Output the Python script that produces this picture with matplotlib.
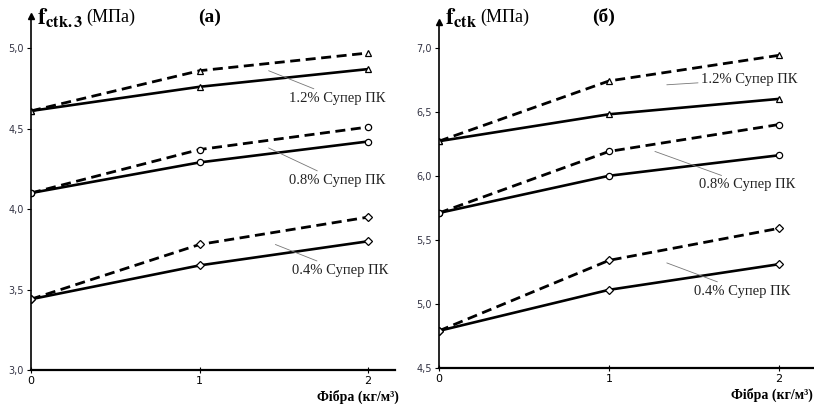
import matplotlib
matplotlib.use("Agg")
import matplotlib.pyplot as plt

plt.rcParams['font.family'] = ['Liberation Serif', 'DejaVu Serif']
plt.rcParams['mathtext.fontset'] = 'stix'

# Дані
fibre = [0, 1, 2]
levels = ['1.2% Супер ПК', '0.8% Супер ПК', '0.4% Супер ПК']
markers = ['^', 'o', 'D']

# (а) f_ctk.3
a_solid = [[4.61, 4.76, 4.87], [4.10, 4.29, 4.42], [3.44, 3.65, 3.80]]
a_dash = [[4.61, 4.86, 4.97], [4.10, 4.37, 4.51], [3.44, 3.78, 3.95]]
a_yticks = [3.0, 3.5, 4.0, 4.5, 5.0]

# (б) f_ctk
b_solid = [[6.27, 6.48, 6.60], [5.71, 6.00, 6.16], [4.79, 5.11, 5.31]]
b_dash = [[6.27, 6.74, 6.94], [5.71, 6.19, 6.40], [4.79, 5.34, 5.59]]
b_yticks = [4.5, 5.0, 5.5, 6.0, 6.5, 7.0]

# положення підписів (лінія-виноска: від, до)
a_notes = [((1.41, 4.86), (1.53, 4.69)), ((1.41, 4.38), (1.53, 4.18)), ((1.45, 3.78), (1.55, 3.62))]
b_notes = [((1.34, 6.71), (1.54, 6.75)), ((1.27, 6.19), (1.53, 5.93)), ((1.34, 5.32), (1.50, 5.10))]

W, H = 814, 404
fig = plt.figure(figsize=(W / 100, H / 100), dpi=100)

ax1 = fig.add_axes([31 / W, 34 / H, 364 / W, 354 / H])
ax2 = fig.add_axes([439 / W, 36 / H, 374 / W, 346 / H])


def draw(ax, solid, dash, yticks, notes, xmax, ymin, ymax):
    for i in range(3):
        ax.plot(fibre, dash[i], color='black', lw=2.0, dashes=(3.6, 2.0),
                marker=markers[i], ms=4.5 if i < 2 else 4, mfc='white', mec='black', mew=0.9)
        ax.plot(fibre, solid[i], color='black', lw=1.9,
                marker=markers[i], ms=4.5 if i < 2 else 4, mfc='white', mec='black', mew=0.9)
        p0, p1 = notes[i]
        ax.annotate(levels[i], xy=p0, xytext=p1, fontsize=10.5, va='center', ha='left',
                    color='#222222',
                    arrowprops=dict(arrowstyle='-', color='#777777', lw=0.6,
                                    shrinkA=0, shrinkB=0))
    ax.set_xlim(0, xmax)
    ax.set_ylim(ymin, ymax)
    ax.set_xticks(fibre)
    ax.set_yticks(yticks)
    ax.set_yticklabels([f'{v:.1f}'.replace('.', ',') for v in yticks],
                       fontfamily='DejaVu Sans', fontsize=7, color='#333344')
    ax.set_xticklabels([str(v) for v in fibre], fontfamily='DejaVu Sans', fontsize=8)
    ax.tick_params(axis='y', length=3, width=0.8, pad=2)
    ax.tick_params(axis='x', length=4, width=0.8, direction='inout', pad=2)
    for s in ['top', 'right']:
        ax.spines[s].set_visible(False)
    ax.spines['left'].set_linewidth(1.2)
    ax.spines['bottom'].set_linewidth(1.6)
    ax.patch.set_alpha(0)
    ax.plot(1, 0, '>', color='black', ms=6, transform=ax.get_yaxis_transform(), clip_on=False)
    ax.plot(0, 1, '^', color='black', ms=5, transform=ax.get_xaxis_transform(), clip_on=False)


draw(ax1, a_solid, a_dash, a_yticks, a_notes, 2.16, 3.0, 5.2)
draw(ax2, b_solid, b_dash, b_yticks, b_notes, 2.2, 4.5, 7.2)

fig.text(37 / W, 1 - 18 / H, r'$\mathbf{f}_{\mathbf{ctk.3}}$', fontsize=17, va='center')
fig.text(86 / W, 1 - 17 / H, '(МПа)', fontsize=13, va='center')
fig.text(210 / W, 1 - 17 / H, '(a)', fontsize=14, fontweight='bold', ha='center', va='center')
fig.text(399 / W, 1 - 397 / H, 'Фібра (кг/м³)', fontsize=10, fontweight='bold', ha='right', va='center')

fig.text(445 / W, 1 - 18 / H, r'$\mathbf{f}_{\mathbf{ctk}}$', fontsize=17, va='center')
fig.text(480 / W, 1 - 17 / H, '(МПа)', fontsize=13, va='center')
fig.text(604 / W, 1 - 17 / H, '(б)', fontsize=14, fontweight='bold', ha='center', va='center')
fig.text(813 / W, 1 - 395 / H, 'Фібра (кг/м³)', fontsize=10, fontweight='bold', ha='right', va='center')

fig.savefig('out.png', dpi=100)
